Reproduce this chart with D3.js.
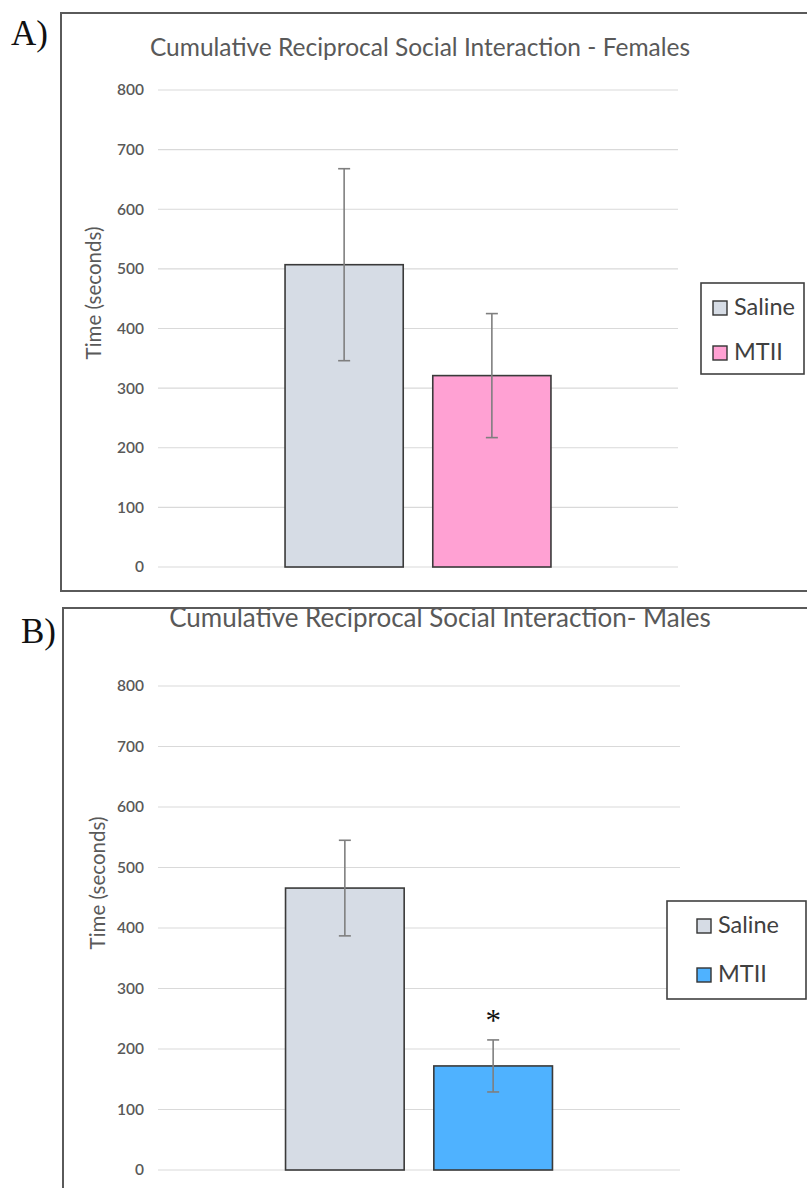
<!DOCTYPE html>
<html>
<head>
<meta charset="utf-8">
<script src="https://cdn.jsdelivr.net/npm/d3@7"></script>
<style>
  html, body { margin: 0; padding: 0; background: #fff; }
  svg { display: block; }
</style>
</head>
<body>
<svg id="chart" width="807" height="1188"></svg>
<script>
// Treatment groups and y-axis ticks shared by both panels
const groups = ["Saline", "MTII"];
const yTicks = [0, 100, 200, 300, 400, 500, 600, 700, 800];

// Females: mean time (s) and error half-width
const femalesMean = [507, 321];
const femalesErr = [161, 104];

// Males: mean time (s) and error half-width
const malesMean = [466, 172];
const malesErr = [79, 43];
const malesSignificant = [false, true];

const svg = d3.select("#chart");
const sans = "Lato, 'Open Sans', sans-serif";
const serif = "'Liberation Serif', 'DejaVu Serif', serif";

function drawPanel(p) {
  const g = svg.append("g");

  // panel frame (runs past the right edge of the page)
  g.append("rect")
    .attr("x", p.frame.x).attr("y", p.frame.y)
    .attr("width", p.frame.w).attr("height", p.frame.h)
    .attr("fill", "none").attr("stroke", "#5a5a5a").attr("stroke-width", 2);

  // panel letter
  g.append("text")
    .attr("x", p.letter.x).attr("y", p.letter.y)
    .attr("font-family", serif).attr("font-size", 35).attr("fill", "#111")
    .text(p.letterText);

  // title
  g.append("text")
    .attr("x", p.title.x).attr("y", p.title.y)
    .attr("text-anchor", "middle")
    .attr("font-family", sans).attr("font-size", p.title.size).attr("fill", "#595959")
    .text(p.titleText);

  const y = d3.scaleLinear().domain([0, 800]).range([p.plot.bottom, p.plot.top]);
  const x = d3.scaleBand().domain(groups)
    .range([p.plot.left, p.plot.right])
    .paddingInner(0.2).paddingOuter(0.86);

  // gridlines
  g.append("g").selectAll("line").data(yTicks).join("line")
    .attr("x1", p.plot.left).attr("x2", p.plot.right)
    .attr("y1", d => y(d)).attr("y2", d => y(d))
    .attr("stroke", "#d9d9d9").attr("stroke-width", 1.2);

  // y axis tick labels
  const axis = d3.axisLeft(y).tickValues(yTicks).tickSize(0).tickPadding(0);
  const ax = g.append("g").attr("transform", `translate(${p.plot.left - 14},0)`).call(axis);
  ax.select(".domain").remove();
  ax.selectAll("text")
    .attr("font-family", sans).attr("font-size", 15.5).attr("fill", "#595959")
    .attr("font-weight", 600);

  // axis title
  g.append("text")
    .attr("transform", `translate(${p.ytitle.x},${p.ytitle.y}) rotate(-90)`)
    .attr("text-anchor", "middle")
    .attr("font-family", sans).attr("font-size", 20.5).attr("fill", "#595959")
    .text("Time (seconds)");

  // bars
  g.append("g").selectAll("rect").data(groups).join("rect")
    .attr("x", d => x(d))
    .attr("y", (d, i) => y(p.mean[i]))
    .attr("width", x.bandwidth())
    .attr("height", (d, i) => y(0) - y(p.mean[i]))
    .attr("fill", (d, i) => p.colors[i])
    .attr("stroke", "#3a3a3a").attr("stroke-width", 1.6);

  // error bars
  const eb = g.append("g").attr("stroke", "#7f7f7f").attr("stroke-width", 1.6);
  groups.forEach((d, i) => {
    const cx = x(d) + x.bandwidth() / 2;
    const hi = y(p.mean[i] + p.err[i]);
    const lo = y(p.mean[i] - p.err[i]);
    eb.append("line").attr("x1", cx).attr("x2", cx).attr("y1", hi).attr("y2", lo);
    eb.append("line").attr("x1", cx - 6).attr("x2", cx + 6).attr("y1", hi).attr("y2", hi);
    eb.append("line").attr("x1", cx - 6).attr("x2", cx + 6).attr("y1", lo).attr("y2", lo);
    if (p.sig && p.sig[i]) {
      g.append("text")
        .attr("x", cx).attr("y", hi - 9)
        .attr("text-anchor", "middle")
        .attr("font-family", serif).attr("font-size", 31).attr("fill", "#111")
        .text("*");
    }
  });

  // legend
  const L = p.legend;
  const lg = g.append("g");
  lg.append("rect")
    .attr("x", L.x).attr("y", L.y).attr("width", L.w).attr("height", L.h)
    .attr("fill", "#fff").attr("stroke", "#404040").attr("stroke-width", 1.6);
  groups.forEach((d, i) => {
    const by = L.y + L.row0 + i * L.rowGap;
    lg.append("rect")
      .attr("x", L.x + L.sx).attr("y", by - 14).attr("width", 14).attr("height", 14)
      .attr("fill", p.colors[i]).attr("stroke", "#333").attr("stroke-width", 1.4);
    lg.append("text")
      .attr("x", L.x + L.sx + 21).attr("y", by)
      .attr("font-family", sans).attr("font-size", 23.5).attr("fill", "#404040")
      .text(d);
  });
}

drawPanel({
  frame: { x: 61, y: 13, w: 800, h: 578 },
  letter: { x: 11, y: 45 }, letterText: "A)",
  title: { x: 420, y: 56, size: 24.5 }, titleText: "Cumulative Reciprocal Social Interaction - Females",
  plot: { left: 158, right: 678, top: 90, bottom: 567 },
  ytitle: { x: 101, y: 293 },
  mean: femalesMean, err: femalesErr,
  colors: ["#d6dce5", "#ffa1d3"],
  legend: { x: 701, y: 283, w: 103, h: 91, sx: 12, row0: 32, rowGap: 45 }
});

drawPanel({
  frame: { x: 63, y: 608, w: 800, h: 600 },
  letter: { x: 21, y: 643 }, letterText: "B)",
  title: { x: 440, y: 627, size: 26 }, titleText: "Cumulative Reciprocal Social Interaction- Males",
  plot: { left: 158, right: 680, top: 686, bottom: 1170 },
  ytitle: { x: 105, y: 883 },
  mean: malesMean, err: malesErr, sig: malesSignificant,
  colors: ["#d6dce5", "#4fb2ff"],
  legend: { x: 667, y: 901, w: 139, h: 98, sx: 30, row0: 32, rowGap: 49 }
});
</script>
</body>
</html>
